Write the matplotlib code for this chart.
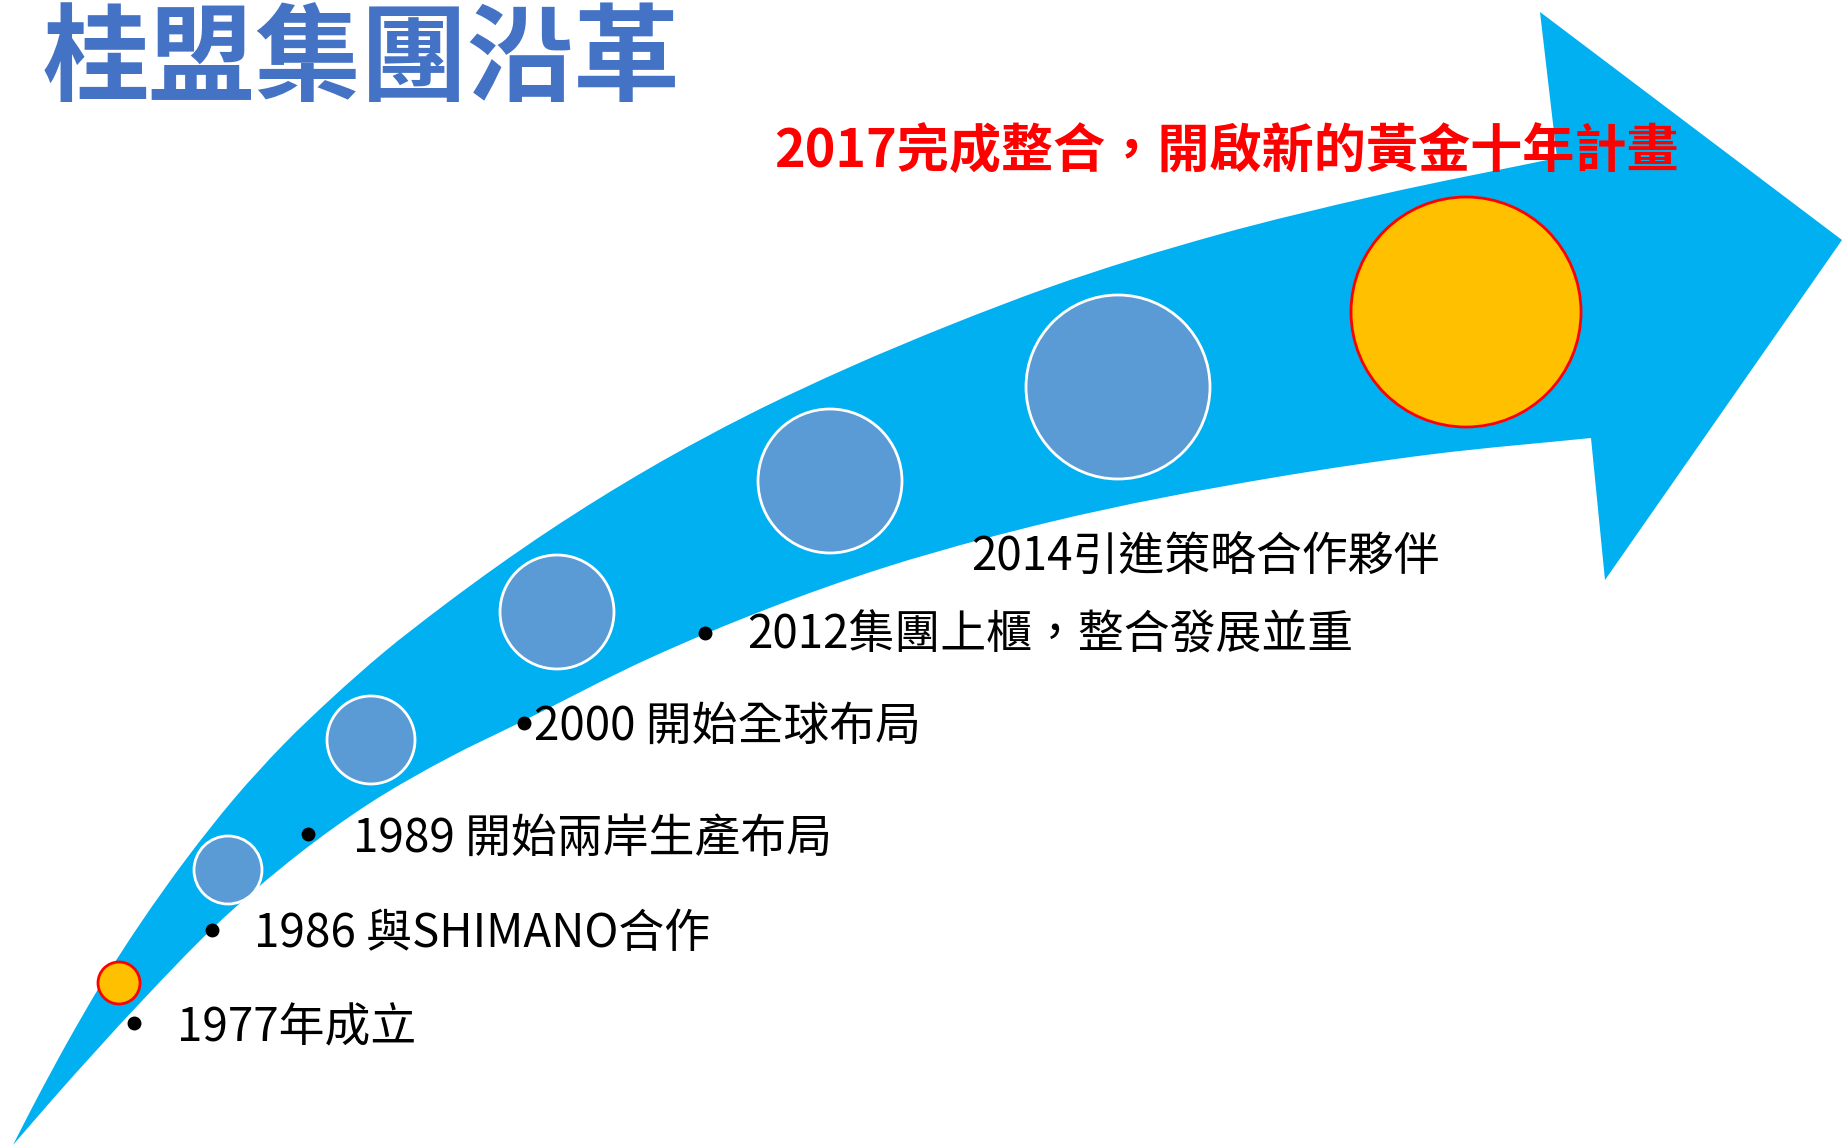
import matplotlib
matplotlib.use("Agg")
import matplotlib.pyplot as plt
from matplotlib.path import Path
from matplotlib.patches import PathPatch, Circle

plt.rcParams['font.family'] = ['Noto Sans CJK TC', 'DejaVu Sans']

# picture coordinates are pixels of the 1845x1147 slide, y downwards
W, H = 1845, 1147

title = "桂盟集團沿革"
headline = "2017完成整合，開啟新的黃金十年計畫"

# milestones: label, bullet position, text anchor (left, baseline)
labels = ["1977年成立", "1986 與SHIMANO合作", "1989 開始兩岸生產布局",
          "2000 開始全球布局", "2012集團上櫃，整合發展並重", "2014引進策略合作夥伴"]
bullet_x = [134, 212, 308, 524, 705, None]
bullet_y = [1023, 930, 834, 723, 633, None]
text_x = [177, 254, 353, 534, 747, 971]
text_y = [1041, 947, 852, 740, 648, 570]

# circles along the arrow
circ_x = [119, 228, 371, 557, 830, 1118, 1466]
circ_y = [983, 870, 740, 612, 481, 387, 312]
circ_r = [21, 34, 44, 57, 72, 92, 115]
circ_kind = ["gold", "blue", "blue", "blue", "blue", "blue", "gold"]

# arrow outline
upper_x = [13, 33, 67, 100, 140, 187, 233, 283, 333, 383, 443, 550, 650,
           750, 850, 950, 1050, 1217, 1379, 1557]
upper_y = [1145, 1106, 1043, 986, 924, 858, 800, 745, 697, 653, 606, 530, 468,
           414, 367, 325, 287, 235, 195, 158]
lower_x = [13, 52, 140, 213, 300, 367, 450, 517, 650, 767, 883, 983, 1050, 1271, 1434, 1591]
lower_y = [1145, 1100, 1003, 928, 853, 805, 757, 724, 658, 609, 568, 539, 522, 478, 454, 438]
head_x = [1540, 1842, 1605]
head_y = [12, 240, 580]


def smooth(xs, ys):
    # hermite curve through the outline points (y as a function of x)
    n = len(xs)
    h = [xs[i + 1] - xs[i] for i in range(n - 1)]
    d = [(ys[i + 1] - ys[i]) / h[i] for i in range(n - 1)]
    m = [d[0]]
    for i in range(1, n - 1):
        m.append((d[i - 1] * h[i] + d[i] * h[i - 1]) / (h[i - 1] + h[i]))
    m.append(d[-1])
    verts, codes = [], []
    for i in range(n - 1):
        t = h[i] / 3
        verts += [(xs[i] + t, ys[i] + m[i] * t),
                  (xs[i + 1] - t, ys[i + 1] - m[i + 1] * t),
                  (xs[i + 1], ys[i + 1])]
        codes += [Path.CURVE4] * 3
    return verts, codes


def smooth_back(xs, ys):
    verts, codes = smooth(xs, ys)
    pts = [(xs[0], ys[0])] + verts
    rev = pts[::-1]
    return rev[1:], codes


fig = plt.figure(figsize=(W / 100, H / 100), dpi=100)
ax = fig.add_axes([0, 0, 1, 1])
ax.set_xlim(0, W)
ax.set_ylim(H, 0)
ax.axis('off')

verts = [(upper_x[0], upper_y[0])]
codes = [Path.MOVETO]
v, c = smooth(upper_x, upper_y)
verts += v
codes += c
for hx, hy in zip(head_x, head_y):
    verts.append((hx, hy))
    codes.append(Path.LINETO)
verts.append((lower_x[-1], lower_y[-1]))
codes.append(Path.LINETO)
v, c = smooth_back(lower_x, lower_y)
verts += v
codes += c
verts.append((upper_x[0], upper_y[0]))
codes.append(Path.CLOSEPOLY)
ax.add_patch(PathPatch(Path(verts, codes), facecolor='#00B0F0', edgecolor='none'))

for cx, cy, r, k in zip(circ_x, circ_y, circ_r, circ_kind):
    if k == "gold":
        ax.add_patch(Circle((cx, cy), r, facecolor='#FFC000', edgecolor='#FF0000', lw=2))
    else:
        ax.add_patch(Circle((cx, cy), r, facecolor='#5B9BD5', edgecolor='white', lw=2))

for lab, bx, by, tx, ty in zip(labels, bullet_x, bullet_y, text_x, text_y):
    if bx is not None:
        ax.plot(bx, by, 'o', color='black', markersize=9)
    ax.text(tx, ty, lab, fontsize=33, color='black', ha='left', va='baseline')

ax.text(43, 93, title, fontsize=76.5, fontweight='bold', color='#4472C4',
        ha='left', va='baseline')
ax.text(774, 167, headline, fontsize=37.5, fontweight='bold', color='#FF0000',
        ha='left', va='baseline')

fig.savefig('out.png', dpi=100, facecolor='white')
